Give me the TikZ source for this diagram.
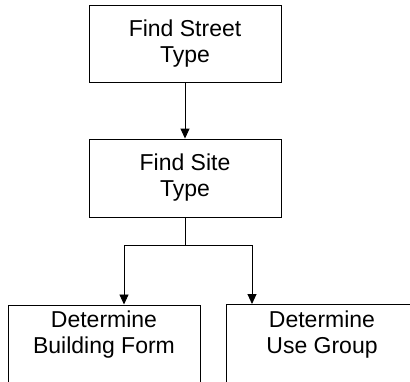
\documentclass[tikz,border=0pt]{standalone}
\usepackage{fontspec}
\setmainfont{Liberation Sans}
\usetikzlibrary{arrows.meta}
\begin{document}
\begin{tikzpicture}[x=1pt, y=-1pt,
  box/.style={draw=black, line width=0.9pt, minimum width=192pt, align=center,
    inner sep=0pt, font=\fontsize{23}{26}\selectfont},
  flow/.style={line width=0.9pt, -{Triangle[length=10pt, width=9pt]}},
  link/.style={line width=0.9pt}]
  \useasboundingbox (0,0) rectangle (410,381);
  \clip (0,0) rectangle (410,381);

  \node[box, minimum height=77pt] (street) at (185,43.5) {Find Street\\Type};
  \node[box, minimum height=78pt] (site) at (185,178) {Find Site\\Type};

  % lower row runs past the bottom edge
  \node[box, anchor=north, inner ysep=6pt, text depth=60pt] (form) at (104,304.5)
    {Determine\\Building Form};
  \node[box, anchor=north, inner ysep=6pt, text depth=60pt] (use) at (322,304)
    {Determine\\Use Group};

  \coordinate (split) at (185,245);

  \draw[flow] (street) -- (site);
  \draw[link] (site) -- (split);
  \draw[flow] (split) -| ([xshift=20pt]form.north);
  \draw[flow] (split) -| ([xshift=-70pt]use.north);
\end{tikzpicture}
\end{document}
